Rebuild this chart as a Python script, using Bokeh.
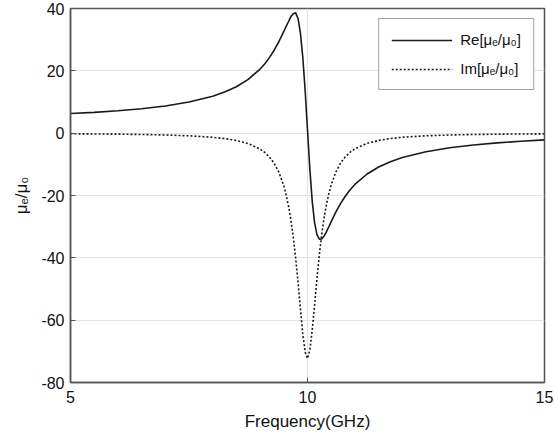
from bokeh.plotting import figure
from bokeh.models import Range1d, FixedTicker, PrintfTickFormatter
from bokeh.embed import file_html
from bokeh.resources import INLINE

freq = [5, 5.5, 6, 6.5, 7, 7.5, 8, 8.25, 8.5, 8.75, 9, 9.1, 9.2, 9.3, 9.4, 9.5, 9.55, 9.6, 9.65,
        9.7, 9.75, 9.8, 9.85, 9.9, 9.95, 10, 10.05, 10.1, 10.15, 10.2, 10.25, 10.3, 10.35, 10.4,
        10.45, 10.5, 10.6, 10.7, 10.8, 10.9, 11, 11.25, 11.5, 11.75, 12, 12.5, 13, 13.5, 14,
        14.5, 15]
re_mu = [6.29, 6.68, 7.19, 7.85, 8.74, 9.99, 11.87, 13.18, 14.91, 17.25, 20.57, 22.29, 24.32,
         26.70, 29.49, 32.63, 34.27, 35.83, 37.4, 38.3, 38.6, 36.8, 32.2, 24.51, 13.80, 1.0,
         -11.61, -21.87, -28.78, -32.56, -34.0, -33.95, -33.01, -31.62, -30.03, -28.40, -25.27,
         -22.52, -20.16, -18.16, -16.46, -13.18, -10.85, -9.14, -7.82, -5.95, -4.69, -3.79,
         -3.11, -2.58, -2.16]
im_mu = [-0.19, -0.25, -0.32, -0.42, -0.58, -0.85, -1.33, -1.73, -2.34, -3.34, -5.10, -6.20,
         -7.68, -9.73, -12.65, -16.95, -19.86, -23.46, -27.92, -33.41, -40.06, -47.84, -56.27,
         -64.32, -70.22, -72.3, -69.53, -63.19, -55.0, -46.6, -38.99, -32.51, -27.19, -22.87,
         -19.38, -16.56, -12.39, -9.55, -7.55, -6.11, -5.03, -3.30, -2.33, -1.72, -1.32, -0.85,
         -0.59, -0.43, -0.33, -0.26, -0.21]
x_ticks = [5, 10, 15]
y_ticks = [-80, -60, -40, -20, 0, 20, 40]
re_label = "Re[μₑ/μ₀]"
im_label = "Im[μₑ/μ₀]"
x_title = "Frequency(GHz)"
y_title = "μₑ/μ₀"

FONT = "Liberation Sans"
AX = "#555555"

p = figure(width=554, height=438, output_backend="svg", toolbar_location=None,
           x_range=Range1d(5, 15), y_range=Range1d(-80, 40),
           min_border_left=70, min_border_right=10, min_border_top=8, min_border_bottom=10)
p.frame_width = 474
p.frame_height = 374

p.line(freq, re_mu, line_color="#1a1a1a", line_width=1.6, legend_label=re_label)
p.line(freq, im_mu, line_color="#1a1a1a", line_width=1.6, line_dash="2 2", legend_label=im_label)

p.outline_line_color = AX
p.outline_line_width = 1.5
p.background_fill_color = "white"
p.border_fill_color = "white"

for ax in (p.xaxis[0], p.yaxis[0]):
    ax.axis_line_color = AX
    ax.axis_line_width = 1.5
    ax.major_tick_in = 5
    ax.major_tick_out = 0
    ax.major_tick_line_color = AX
    ax.minor_tick_line_color = None
    ax.major_label_text_font = FONT
    ax.major_label_text_font_size = "16px"
    ax.major_label_text_color = "#111111"
    ax.axis_label_text_font = FONT
    ax.axis_label_text_font_size = "17px"
    ax.axis_label_text_font_style = "normal"
    ax.axis_label_text_color = "#111111"

p.xaxis.ticker = FixedTicker(ticks=x_ticks)
p.yaxis.ticker = FixedTicker(ticks=y_ticks)
p.xaxis.formatter = PrintfTickFormatter(format="%d")
p.yaxis.formatter = PrintfTickFormatter(format="%d")
p.xaxis.axis_label = x_title
p.yaxis.axis_label = y_title
p.xaxis.major_label_standoff = 8
p.yaxis.major_label_standoff = 6
p.xaxis.axis_label_standoff = 6
p.yaxis.axis_label_standoff = 7

p.xgrid.ticker = FixedTicker(ticks=x_ticks)
p.ygrid.ticker = FixedTicker(ticks=y_ticks)
p.grid.grid_line_color = "#e2e2e2"
p.grid.grid_line_width = 1

leg = p.legend[0]
leg.location = "top_right"
leg.margin = 10
leg.padding = 12
leg.spacing = 12
leg.glyph_width = 61
leg.glyph_height = 16
leg.label_standoff = 8
leg.label_text_font = FONT
leg.label_text_font_size = "15px"
leg.label_text_color = "#111111"
leg.border_line_color = "#444444"
leg.border_line_width = 1.2
leg.background_fill_alpha = 1

open("out.html", "w").write(file_html(p, INLINE))
